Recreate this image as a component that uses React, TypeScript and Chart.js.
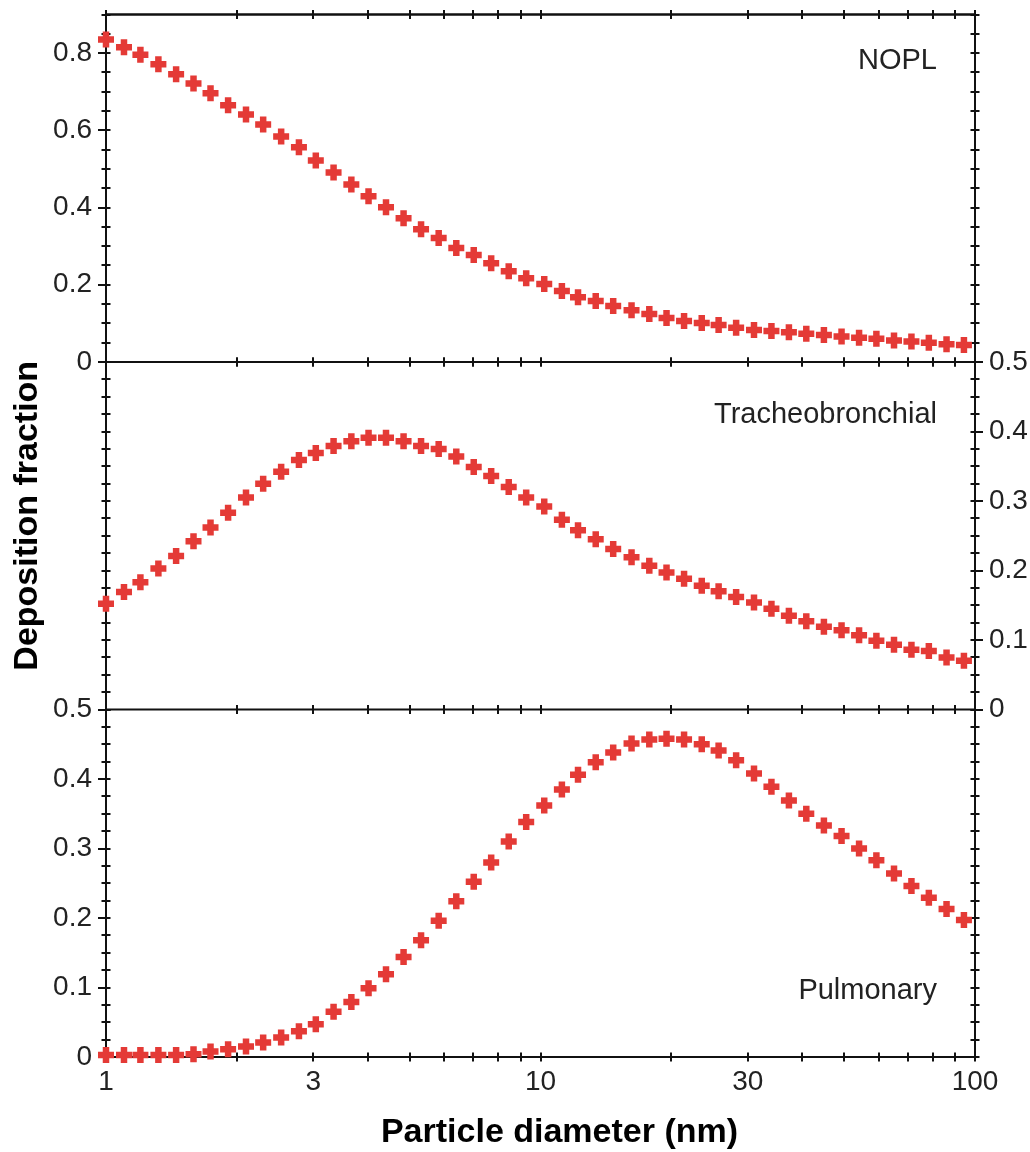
import React, { useEffect, useRef } from 'react';
import { Chart, registerables } from 'chart.js';

Chart.register(...registerables);

// Particle diameters (nm), log-spaced
const diameters = [
  1.0, 1.1, 1.2, 1.32, 1.45, 1.59, 1.74, 1.91, 2.1, 2.3,
  2.53, 2.78, 3.04, 3.34, 3.67, 4.02, 4.41, 4.84, 5.31, 5.83,
  6.4, 7.02, 7.7, 8.45, 9.27, 10.2, 11.2, 12.2, 13.4, 14.7,
  16.2, 17.8, 19.5, 21.4, 23.5, 25.7, 28.2, 31.0, 34.0, 37.3,
  40.9, 44.9, 49.3, 54.1, 59.3, 65.1, 71.4, 78.3, 86.0, 94.3,
];

// NOPL deposition fraction (top panel)
const noplValues = [
  0.835, 0.815, 0.796, 0.771, 0.745, 0.721, 0.696, 0.665, 0.641, 0.615,
  0.584, 0.556, 0.522, 0.491, 0.46, 0.429, 0.401, 0.372, 0.344, 0.321,
  0.295, 0.277, 0.256, 0.235, 0.217, 0.202, 0.184, 0.168, 0.158, 0.145,
  0.134, 0.124, 0.114, 0.106, 0.101, 0.096, 0.089, 0.083, 0.08, 0.077,
  0.073, 0.07, 0.066, 0.063, 0.06, 0.056, 0.053, 0.05, 0.046, 0.044,
];

// Tracheobronchial deposition fraction (middle panel)
const tracheoValues = [
  0.152, 0.169, 0.183, 0.203, 0.221, 0.242, 0.262, 0.283, 0.305, 0.325,
  0.342, 0.359, 0.369, 0.379, 0.386, 0.391, 0.391, 0.386, 0.379, 0.375,
  0.364, 0.349, 0.336, 0.32, 0.305, 0.292, 0.273, 0.258, 0.245, 0.231,
  0.219, 0.207, 0.197, 0.188, 0.178, 0.17, 0.162, 0.154, 0.145, 0.135,
  0.127, 0.119, 0.114, 0.107, 0.099, 0.093, 0.086, 0.084, 0.075, 0.07,
];

// Pulmonary deposition fraction (bottom panel)
const pulmonaryValues = [
  0.003, 0.003, 0.003, 0.003, 0.003, 0.004, 0.008, 0.011, 0.015, 0.021,
  0.028, 0.037, 0.047, 0.065, 0.079, 0.099, 0.119, 0.144, 0.168, 0.196,
  0.224, 0.252, 0.28, 0.31, 0.338, 0.362, 0.385, 0.406, 0.424, 0.438,
  0.451, 0.457, 0.458, 0.457, 0.45, 0.441, 0.427, 0.408, 0.389, 0.369,
  0.35, 0.333, 0.318, 0.3, 0.283, 0.264, 0.246, 0.229, 0.213, 0.197,
];

const panelNames = ['NOPL', 'Tracheobronchial', 'Pulmonary'];

const xLabelTicks = [1, 3, 10, 30, 100];
const xMarkTicks = [1, 2, 3, 4, 5, 6, 7, 8, 9, 10, 20, 30, 40, 50, 60, 70, 80, 90, 100];

const topLabelTicks = [0, 0.2, 0.4, 0.6, 0.8];
const topMarkTicks = [
  0, 0.05, 0.1, 0.15, 0.2, 0.25, 0.3, 0.35, 0.4, 0.45,
  0.5, 0.55, 0.6, 0.65, 0.7, 0.75, 0.8, 0.85, 0.9,
];
const lowLabelTicks = [0, 0.1, 0.2, 0.3, 0.4, 0.5];
const lowMarkTicks = [
  0, 0.025, 0.05, 0.075, 0.1, 0.125, 0.15, 0.175, 0.2, 0.225,
  0.25, 0.275, 0.3, 0.325, 0.35, 0.375, 0.4, 0.425, 0.45, 0.475, 0.5,
];

const RED = '#e43a36';
const INK = '#111111';
const TEXT = '#222222';
const FONT = '"Liberation Sans", Arial, Helvetica, sans-serif';

const W = 1030;
const H = 1152;

const fmt = (v: number) => Number(v).toFixed(1).replace(/\.0$/, '');

function setTicks(list: number[]) {
  return (s: any) => {
    s.ticks = list.map((v) => ({ value: v }));
  };
}

function zeroPadding(s: any) {
  s.paddingTop = 0;
  s.paddingBottom = 0;
  s.paddingLeft = 0;
  s.paddingRight = 0;
}

const tickFont = { family: FONT, size: 28 };

function yAxis(opts: any) {
  const { position, weight, max, labels, width } = opts;
  return {
    type: 'linear',
    position,
    stack: position === 'left' ? 'L' : 'R',
    stackWeight: 1,
    weight,
    min: 0,
    max,
    grid: { display: false, drawTicks: false },
    border: { display: false },
    afterBuildTicks: setTicks(labels.length ? labels : [0]),
    ticks: {
      display: labels.length > 0,
      padding: 14,
      color: TEXT,
      font: tickFont,
      autoSkip: false,
      callback: (v: number) => fmt(v),
    },
    afterFit: (s: any) => {
      s.width = width;
      zeroPadding(s);
    },
  };
}

const framePlugin = {
  id: 'frame',
  beforeDatasetsDraw(chart: any) {
    const ctx = chart.ctx;
    const { left, right, top, bottom } = chart.chartArea;
    const xs = chart.scales.x;
    const panels = [
      { l: chart.scales.yTop, r: chart.scales.yTopR, marks: topMarkTicks, lLab: topLabelTicks, rLab: [] as number[] },
      { l: chart.scales.yMid, r: chart.scales.yMidR, marks: lowMarkTicks, lLab: [] as number[], rLab: lowLabelTicks },
      { l: chart.scales.yBot, r: chart.scales.yBotR, marks: lowMarkTicks, lLab: lowLabelTicks, rLab: [] as number[] },
    ];
    ctx.save();
    ctx.strokeStyle = INK;
    ctx.lineWidth = 2;
    ctx.lineCap = 'butt';
    const line = (x1: number, y1: number, x2: number, y2: number) => {
      ctx.beginPath();
      ctx.moveTo(x1, y1);
      ctx.lineTo(x2, y2);
      ctx.stroke();
    };
    ctx.strokeRect(left, top, right - left, bottom - top);
    panels.forEach((p) => {
      const t = p.l.top;
      const b = p.l.bottom;
      line(left, t, right, t);
      xMarkTicks.forEach((v) => {
        const px = Math.round(xs.getPixelForValue(v));
        line(px, t - 4.5, px, t + 4.5);
        line(px, b - 4.5, px, b + 4.5);
      });
      p.marks.forEach((v) => {
        const py = Math.round(p.l.getPixelForValue(v));
        const lo = p.lLab.includes(v) ? 8 : 4.5;
        const ro = p.rLab.includes(v) ? 8 : 4.5;
        line(left - lo, py, left + 4.5, py);
        line(right - 4.5, py, right + ro, py);
      });
    });
    ctx.restore();
  },
  afterDraw(chart: any) {
    const ctx = chart.ctx;
    const { left, right, top, bottom } = chart.chartArea;
    const sTop = chart.scales.yTop;
    const sMid = chart.scales.yMid;
    const sBot = chart.scales.yBot;
    ctx.save();
    ctx.fillStyle = TEXT;
    ctx.font = `29px ${FONT}`;
    ctx.textAlign = 'right';
    ctx.textBaseline = 'alphabetic';
    ctx.fillText(panelNames[0], right - 38, sTop.top + 54);
    ctx.fillText(panelNames[1], right - 38, sMid.top + 61);
    ctx.fillText(panelNames[2], right - 38, sBot.bottom - 58);

    ctx.fillStyle = '#000000';
    ctx.font = `bold 34px ${FONT}`;
    ctx.textAlign = 'center';
    ctx.textBaseline = 'middle';
    ctx.fillText('Particle diameter (nm)', (left + right) / 2 + 19, bottom + 76);
    ctx.save();
    ctx.translate(left - 78, (top + bottom) / 2 - 20);
    ctx.rotate(-Math.PI / 2);
    ctx.fillText('Deposition fraction', 0, 0);
    ctx.restore();
    ctx.restore();
  },
};

function series(label: string, values: number[], axis: string) {
  return {
    label,
    data: diameters.map((d, i) => ({ x: d, y: values[i] })),
    yAxisID: axis,
    xAxisID: 'x',
    showLine: false,
    pointStyle: 'cross',
    pointRadius: 8,
    pointHoverRadius: 8,
    pointBorderWidth: 6.5,
    pointHoverBorderWidth: 6.5,
    borderColor: RED,
    backgroundColor: RED,
    clip: false,
  };
}

export default function App() {
  const ref = useRef<HTMLCanvasElement>(null);
  useEffect(() => {
    if (!ref.current) return;
    const chart = new Chart(ref.current, {
      type: 'scatter',
      data: {
        datasets: [
          series(panelNames[0], noplValues, 'yTop'),
          series(panelNames[1], tracheoValues, 'yMid'),
          series(panelNames[2], pulmonaryValues, 'yBot'),
        ] as any,
      },
      options: {
        responsive: false,
        animation: false,
        devicePixelRatio: 1,
        layout: { padding: { top: 13, left: 0, right: 0, bottom: 0 } },
        plugins: { legend: { display: false }, tooltip: { enabled: false } },
        events: [],
        scales: {
          x: {
            type: 'logarithmic',
            position: 'bottom',
            min: 1,
            max: 100,
            grid: { display: false, drawTicks: false },
            border: { display: false },
            afterBuildTicks: setTicks(xLabelTicks),
            ticks: {
              autoSkip: false,
              maxRotation: 0,
              padding: 8,
              color: TEXT,
              font: tickFont,
              callback: (v: any) => String(v),
            },
            afterFit: (s: any) => {
              s.height = 95;
              zeroPadding(s);
            },
          },
          yTop: yAxis({ position: 'left', weight: 3, max: 0.9, labels: topLabelTicks, width: 106 }),
          yMid: yAxis({ position: 'left', weight: 2, max: 0.5, labels: [], width: 106 }),
          yBot: yAxis({ position: 'left', weight: 1, max: 0.5, labels: lowLabelTicks, width: 106 }),
          yTopR: yAxis({ position: 'right', weight: 1, max: 0.9, labels: [], width: 55 }),
          yMidR: yAxis({ position: 'right', weight: 2, max: 0.5, labels: lowLabelTicks, width: 55 }),
          yBotR: yAxis({ position: 'right', weight: 3, max: 0.5, labels: [], width: 55 }),
        } as any,
      },
      plugins: [framePlugin],
    });
    return () => chart.destroy();
  }, []);
  return (
    <div style={{ position: 'fixed', left: 0, top: 0, width: W, height: H, background: '#ffffff' }}>
      <canvas ref={ref} width={W} height={H} style={{ display: 'block' }} />
    </div>
  );
}
